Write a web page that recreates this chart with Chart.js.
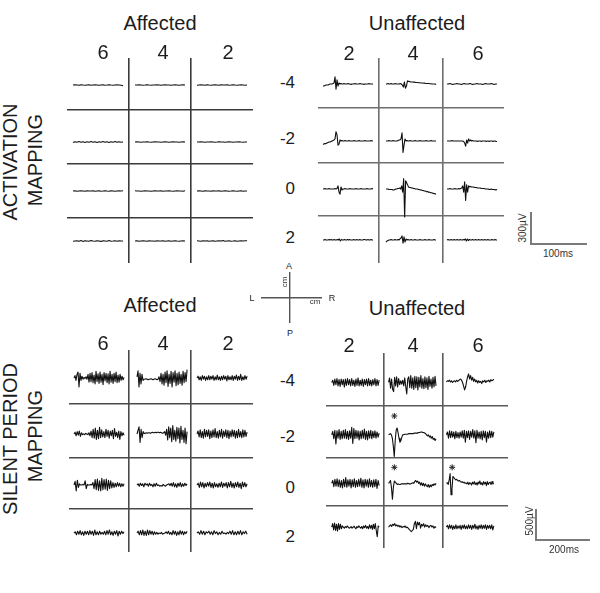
<!DOCTYPE html>
<html>
<head>
<meta charset="utf-8">
<script src="https://cdn.jsdelivr.net/npm/chart.js@4.4.1/dist/chart.umd.min.js"></script>
<style>
  body { margin: 0; background: #fff; }
  #fig { position: relative; width: 600px; height: 593px; overflow: hidden;
         font-family: "Liberation Sans", Arial, sans-serif; color: #1c1c1c; }
  #fig canvas { position: absolute; }
  .t { position: absolute; white-space: nowrap; line-height: 1; transform: translate(-50%, -50%); }
  .rot { transform: translate(-50%, -50%) rotate(-90deg); }
  .rt { transform: translate(-100%, -50%); }
</style>
</head>
<body>
<div id="fig"></div>
<script>
// column / row labels
var affectedCols = ["6", "4", "2"];
var unaffectedCols = ["2", "4", "6"];
var rowLabels = ["-4", "-2", "0", "2"];

// traces in µV, rows -4,-2,0,2 and columns as labelled
// activation mapping, affected side (nearly flat)
var actAffected = [
  [0,2,0,-2,3,0,-2,0,2,-3,0,2,0,-2,0,2,-2,0,3,0,-2,0,2,0,-3,-8],
  [0,0,2,0,-2,0,3,0,-2,0,0,2,0,-3,0,2,0,0,-2,0,2,0,-2,0,2,0],
  [-3,0,2,0,-2,3,0,-2,0,2,0,-3,2,0,0,2,-2,0,3,0,-2,0,2,0,-2,0],
  [-4,3,-2,4,-3,3,-4,2,-3,4,-2,3,-4,3,-2,4,-3,2,-4,3,-2,4,-3,3,-2,0],
  [0,2,0,-2,0,0,3,0,-2,0,2,0,0,-2,0,2,0,-3,0,2,0,0,-2,0,2,0],
  [0,0,2,0,-3,0,0,2,0,-2,0,3,0,0,-2,0,2,0,-2,0,0,3,0,-2,0,0],
  [0,3,-2,0,2,0,-3,2,0,0,3,-2,0,2,-2,0,3,0,-2,2,0,-3,0,2,0,2],
  [3,0,0,-2,0,2,0,0,-3,0,2,0,0,2,-2,0,0,3,0,-2,0,2,0,0,-2,2],
  [0,2,0,-3,2,0,0,-2,3,0,0,2,-3,0,2,0,-2,0,3,0,-2,0,2,-2,0,0],
  [-3,0,3,-3,6,-4,3,0,-3,4,0,-3,3,0,-4,3,0,-3,4,-2,0,3,-3,2,0,0],
  [0,3,-3,0,3,0,-3,3,0,0,-3,3,0,0,3,-2,0,2,-3,0,3,0,-2,0,2,0],
  [3,0,-3,3,0,3,-3,0,3,-3,0,3,0,4,-3,0,3,-2,0,3,-3,0,2,0,3,2]
];

// activation mapping, unaffected side
var actUnaffected = [
  [-20,-20,-15,-10,-10,-10,-5,0,0,0,5,10,70,-50,40,-20,10,0,5,0,0,5,0,0,0,5,0,0,-5,0,0,0,5,0,0,0,0,5,0,0,0,-5,0,0,0,0,5,0,0,0,0],
  [0,0,5,0,0,5,0,0,0,5,0,0,0,0,5,0,-10,-30,20,-40,-20,30,25,25,20,20,20,18,18,15,15,15,12,12,10,10,10,8,8,5,5,5,5,3,3,0,0,0,0,-5],
  [0,0,5,0,-5,0,0,5,0,0,-5,0,5,0,0,0,5,0,-5,0,0,5,0,0,0,-5,0,5,0,0,0,5,0,-5,0,0],
  [-30,-30,-25,-25,-20,-15,-10,-10,-5,0,5,10,20,90,60,-40,-30,10,0,5,0,0,5,0,0,0,5,0,0,0,0,5,0,0,0,0,5,0,0,0,0,0,5,0,0,0,0,0,5,0,0],
  [0,0,0,5,0,0,0,5,0,0,0,0,5,10,10,20,80,-110,-40,20,0,5,0,0,5,0,0,0,0,5,0,0,0,0,5,0,0,0,0,0,5,0,0,0,0,5,0,0,0,0,0],
  [0,0,0,0,0,5,0,0,0,0,0,0,0,0,0,0,0,-5,-20,-50,10,-20,20,0,10,0,5,0,0,0,0,-5,0,0,0,-5,0,0,0,0,-5,0,0,-5,0,0,0,-5,0,0,-5,-5],
  [0,0,5,0,0,0,5,0,0,0,0,0,5,0,5,30,-30,-50,20,-10,0,0,5,0,0,0,0,5,0,0,0,0,0,5,0,0,0,0,5,0,0,0,0,0,5,0,0,0,0,5,0],
  [0,0,0,-5,-5,-5,-5,-10,-10,-5,0,0,5,5,10,0,30,-30,100,-270,80,60,40,20,15,15,10,10,5,5,0,0,0,-5,-5,-10,-10,-15,-15,-20,-20,-25,-25,-30,-30,-35,-35,-40,-40,-45,-45,-50],
  [0,0,0,5,0,0,0,0,5,0,0,0,5,0,5,10,30,-30,70,-110,40,-30,30,20,25,20,20,20,15,15,15,10,10,10,10,5,5,5,5,0,0,0,0,-5,-5,0,-5,-5,-5,-10,-5,-10],
  [0,0,5,0,0,0,5,0,5,0,0,5,0,0,5,0,10,-10,5,0,0,5,0,0,5,0,5,0,0,0,5,0,0,5,0,0,5,0,0,0,5,5,0,0,5,0,0,5,0,0],
  [-20,-10,-5,0,0,5,0,0,0,5,0,0,5,0,10,20,40,-30,30,-20,10,0,5,0,0,5,0,0,0,5,0,0,0,0,5,0,0,0,0,5,0,0,0,5,0,0,0,0,5,0,0],
  [0,5,0,0,5,0,0,5,0,0,5,0,0,5,0,0,5,0,10,-10,10,-5,5,0,0,5,0,0,5,0,0,5,0,0,5,0,0,5,0,0,5,0,0,0,5,0,0,5,0,0]
];

// silent period mapping, affected side
var spAffected = [
  [0,40,-40,60,100,-150,80,-40,30,-20,10,-10,20,-20,60,-70,80,-60,90,-80,50,-100,110,-60,70,-90,100,-70,60,-110,90,-50,80,-80,70,-100,110,-70,60,-90,80,-60,100,-80,50,-70,60,-40,30,-30,10],
  [20,120,-150,80,-100,60,-40,-20,-20,-10,-20,-30,-20,-20,-10,-20,-30,-20,-10,-20,-30,-20,20,-60,80,-100,60,-120,100,-80,120,-140,60,-90,110,-150,90,-70,120,-130,80,-110,100,-90,60,-120,110,-80,90,-60,140],
  [0,30,-30,20,-40,40,-20,30,-40,20,-30,40,-30,30,-20,40,-40,20,-30,50,-30,20,-40,30,-30,40,-20,30,-50,40,-30,20,-30,40,-40,30,-20,50,-40,30,-30,60,-40,20,-30,40,-20,30],
  [0,30,-30,40,-20,50,-40,20,-10,0,-10,10,0,-10,20,-30,50,-60,80,-70,100,-90,60,-80,110,-60,70,-50,40,-60,80,-40,60,-70,50,-30,60,-80,90,-40,30,-60,50,-90,40,-30,20,-20],
  [0,60,120,-140,80,-60,40,10,10,20,10,20,20,10,20,30,20,20,30,20,30,30,20,30,20,10,20,40,-20,80,-100,120,-60,100,-130,140,-90,60,-120,110,-80,100,-150,130,-90,60,-140,100,-160,40],
  [0,50,-50,70,-60,40,-70,80,-50,60,-40,70,-80,50,-60,70,-50,90,-60,40,-70,60,-50,80,-70,50,-40,70,-60,60,-80,50,-50,70,-40,60,-70,50,-60,80,-50,40,-60,70,-50,60,-40,30],
  [0,60,-100,80,-40,20,0,0,10,0,70,-60,10,0,0,10,0,40,-60,90,-80,100,-90,70,-100,110,-80,90,-70,100,-90,80,-60,70,-50,40,-40,30,-30,40,-20,30,-30,20,-20,20],
  [0,20,-20,30,-10,20,-30,30,0,20,-20,30,-10,10,-30,20,-20,30,-10,0,-20,-10,-20,10,-10,-20,0,10,20,-10,30,-20,40,-30,20,-40,30,-20,40,-30,20,-20,30,-10,20],
  [0,30,-40,50,-30,40,-50,30,-30,40,-20,50,-40,30,-50,40,-30,20,-40,30,-30,50,-40,30,-20,40,-50,40,-30,60,-40,30,-50,40,-30,50,-40,30,-60,50,-30,40,-30,20],
  [0,20,-30,30,-20,40,-30,20,-40,30,-20,30,-30,40,-20,30,-40,50,-30,20,-30,30,-20,10,-20,30,-30,40,-20,50,-30,20,-40,30,-20,40,-50,30,-20,30,-10,20],
  [0,30,-30,40,-30,50,-40,30,-40,50,-30,40,-20,30,-30,20,-20,10,-20,0,-10,10,-20,-10,0,20,-10,30,-20,10,-30,40,-20,30,-40,20,-30,40,-20,30,-30,20,-10,30],
  [0,20,-20,40,-20,30,-30,20,0,30,-20,20,-30,40,-10,20,-30,10,-20,30,-10,0,-20,10,-10,30,-20,40,-30,20,-30,30,-20,40,-30,20,-10,30,-20]
];

// silent period mapping, unaffected side
var spUnaffected = [
  [0,40,-50,60,-40,70,-60,50,-70,60,-40,50,-80,60,-50,70,-40,50,-60,70,-50,40,-70,60,-50,80,-60,40,-50,60,-70,50,-40,60,-60,70,-50,40,-60,50,-40,70,-60,50,-50,40],
  [0,80,-100,60,-120,-160,90,-60,100,-80,70,-40,30,-30,40,-60,80,-70,-200,60,100,-90,120,-100,80,-120,110,-90,100,-130,90,-80,120,-100,70,-110,100,-90,80,-120,110,-70,60,-100,90,-80,110,-60],
  [10,30,20,40,10,30,0,20,30,10,40,20,30,50,60,40,0,-60,-130,-80,20,100,150,60,120,40,90,20,60,10,40,-10,30,0,20,-20,30,10,40,0,30,20,40,10,50,30,40,60],
  [0,60,-70,80,-160,70,-60,90,-80,60,-70,80,-60,90,-70,60,-80,70,-60,130,-150,110,-70,80,-60,70,-90,60,-70,80,-60,100,-80,60,-90,70,-60,80,-70,60,-50,70,-60,50,-40,30],
  [0,10,20,0,-60,-200,-380,-100,80,120,40,-60,-130,-100,-40,0,0,10,10,10,10,20,20,20,20,20,20,30,30,30,30,40,40,40,50,50,40,40,30,20,0,-20,0,-40,-20,-60,-30,-80,-60,-100,-70],
  [0,50,-60,70,-50,60,-40,50,-70,60,-50,40,-60,50,-40,70,-60,80,-130,60,-50,70,-80,60,-40,90,-60,70,-140,80,-60,50,-70,60,-90,70,-50,60,-130,50,-60,70,-50,60,-40,50],
  [0,50,-60,70,-50,80,-60,60,-70,50,-80,70,-60,100,-70,60,-50,70,-80,60,-60,80,-70,50,-60,70,-50,90,-70,60,-80,70,-50,60,-70,80,-60,50,-70,60,-60,70,-90,50,-40],
  [0,20,50,-80,-280,-60,40,20,0,-20,-10,-20,-20,-10,-10,-10,-10,-10,-10,0,0,-10,-10,-10,0,10,0,30,50,20,40,0,20,-30,10,-40,0,-50,-10,-40,-60,-20,-70,-30,-60,-20,-40,-10,-30,0],
  [0,10,-20,60,170,-200,-100,120,100,80,60,70,50,40,50,30,20,30,10,20,0,10,-10,20,-20,10,0,-30,20,-10,30,-20,10,-30,20,-10,40,-20,10,-30,30,-10,20,-40,30,-20,10,20,-20,30,-10,0],
  [0,60,-50,70,-60,50,-70,60,-40,50,-30,20,0,-20,10,-10,20,0,-20,-10,10,-20,0,20,-10,-30,10,-10,20,0,-20,10,-30,20,-10,30,-20,10,-30,40,-20,30,-40,50,-30,60,-60,-170,20,0],
  [0,20,40,10,50,30,60,20,40,10,30,0,20,-10,10,0,20,-10,0,-20,-40,-60,-80,-60,-40,60,100,-30,90,40,80,-20,50,20,60,0,40,10,30,-10,20,30,0,20,-20,10,-10],
  [0,30,-30,40,-20,30,-40,20,-30,40,-30,20,-20,30,-40,30,-20,40,-30,20,-30,40,-20,30,-40,30,-20,50,-30,20,-40,30,-20,40,-30,30,-20,40,-40,30,-20,30,-30,40,-50,20]
];

// asterisks (silent period, unaffected): trace index, ms after trace start, µV above baseline
var starTrace = [4, 7, 8];
var starMs = [23, 23, 23];
var starUV = [330, 280, 280];

var fig = document.getElementById("fig");

function addCanvas(left, top, w, h) {
  var c = document.createElement("canvas");
  c.width = w; c.height = h;
  c.style.left = left + "px"; c.style.top = top + "px";
  c.style.width = w + "px"; c.style.height = h + "px";
  fig.appendChild(c);
  return c.getContext("2d");
}

function baseOptions() {
  return {
    animation: false, responsive: false, devicePixelRatio: 1, events: [],
    layout: { padding: 0 },
    plugins: { legend: { display: false }, tooltip: { enabled: false } }
  };
}

// one 4x3 grid of traces
function drawPanel(p, traces, stars) {
  var xv = function (px) { return (px - p.left) / p.pxPerMs; };
  var yv = function (py) { return -(py - p.top) / p.pxPerUV; };
  var datasets = [];
  traces.forEach(function (tr, k) {
    var r = Math.floor(k / 3), c = k % 3;
    var x0 = xv(p.traceStart[c]), y0 = yv(p.rowMid[r]);
    var dt = p.durMs / (tr.length - 1);
    datasets.push({
      data: tr.map(function (v, i) { return { x: x0 + i * dt, y: y0 + v }; }),
      borderColor: "#111", borderWidth: 1.1, borderJoinStyle: "round",
      pointRadius: 0, tension: 0, fill: false
    });
  });
  if (stars) {
    datasets.push({
      type: "scatter",
      data: stars.idx.map(function (k, j) {
        var r = Math.floor(k / 3), c = k % 3;
        return { x: xv(p.traceStart[c]) + stars.ms[j], y: yv(p.rowMid[r]) + stars.uv[j] };
      }),
      pointStyle: "star", pointRadius: 3, borderColor: "#222", borderWidth: 1, backgroundColor: "#222"
    });
  }
  var opts = baseOptions();
  opts.scales = {
    x: {
      type: "linear", min: 0, max: xv(p.left + p.w),
      afterBuildTicks: function (a) { a.ticks = p.colLines.map(function (v) { return { value: xv(v) }; }); },
      ticks: { display: false },
      grid: { color: p.gridColor, lineWidth: 1.6, drawTicks: false },
      border: { display: false }
    },
    y: {
      type: "linear", min: yv(p.top + p.h), max: 0,
      afterBuildTicks: function (a) { a.ticks = p.rowLines.map(function (v) { return { value: yv(v) }; }); },
      ticks: { display: false },
      grid: { color: p.gridColor, lineWidth: 1.6, drawTicks: false },
      border: { display: false }
    }
  };
  new Chart(addCanvas(p.left, p.top, p.w, p.h), { type: "line", data: { datasets: datasets }, options: opts });
}

var topScale = { pxPerMs: 55 / 100, pxPerUV: 31 / 300, durMs: 91 };
var botScale = { pxPerMs: 53 / 200, pxPerUV: 30 / 500, durMs: 189 };

function panel(box, s) { return Object.assign({}, s, box); }

drawPanel(panel({ left: 67, top: 58, w: 186, h: 205, colLines: [129, 191], rowLines: [110, 164, 218],
  rowMid: [85, 142, 191, 241], traceStart: [73, 135, 197], gridColor: "#3a3a3a" }, topScale), actAffected);
drawPanel(panel({ left: 318, top: 58, w: 186, h: 205, colLines: [379, 443], rowLines: [108, 163, 216],
  rowMid: [84, 141, 189, 240], traceStart: [323, 386, 447], gridColor: "#6e6e6e" }, topScale), actUnaffected);
drawPanel(panel({ left: 69, top: 350, w: 184, h: 202, colLines: [129, 191], rowLines: [404, 458, 509],
  rowMid: [378, 434, 485, 533], traceStart: [74, 137, 197], gridColor: "#4a4a4a" }, botScale), spAffected);
drawPanel(panel({ left: 321, top: 348, w: 192, h: 205, colLines: [382, 444], rowLines: [404, 458, 509],
  rowMid: [379, 434, 485, 531], traceStart: [327, 387, 448], gridColor: "#5a5a5a" }, botScale), spUnaffected,
  { idx: starTrace, ms: starMs, uv: starUV });

// calibration bars: axis borders spanning 100 ms / 300 µV and 200 ms / 500 µV
function scaleBar(left, bottom, ms, uv, s) {
  var pad = 2;
  var w = Math.round(ms * s.pxPerMs), h = Math.round(uv * s.pxPerUV);
  var opts = baseOptions();
  opts.layout = { padding: pad };
  var ax = function (max) {
    return { type: "linear", min: 0, max: max, ticks: { display: false },
      grid: { display: false, drawTicks: false }, border: { display: true, color: "#7a7a7a", width: 2 } };
  };
  opts.scales = { x: ax(ms), y: ax(uv) };
  new Chart(addCanvas(left - pad, bottom - h - pad, w + 2 * pad, h + 2 * pad),
    { type: "line", data: { datasets: [] }, options: opts });
}
scaleBar(531, 244, 100, 300, topScale);
scaleBar(536, 540, 200, 500, botScale);

// orientation cross (A/P, L/R)
(function () {
  var opts = baseOptions();
  var ax = function (min, max) {
    return { type: "linear", min: min, max: max,
      afterBuildTicks: function (a) { a.ticks = [{ value: 0 }]; },
      ticks: { display: false }, grid: { color: "#555", lineWidth: 1.4, drawTicks: false }, border: { display: false } };
  };
  opts.scales = { x: ax(-29, 32), y: ax(-25, 26) };
  new Chart(addCanvas(261, 272, 61, 51), { type: "line", data: { datasets: [] }, options: opts });
})();

// text
function text(s, x, y, size, cls, color) {
  var d = document.createElement("div");
  d.className = "t" + (cls ? " " + cls : "");
  d.textContent = s;
  d.style.left = x + "px"; d.style.top = y + "px";
  d.style.fontSize = size + "px";
  if (color) d.style.color = color;
  fig.appendChild(d);
}
text("Affected", 160, 23, 20); text("Unaffected", 417, 23, 20);
text("Affected", 160, 305, 20); text("Unaffected", 417, 308, 20);
[103, 163, 228].forEach(function (x, i) { text(affectedCols[i], x, 52, 20); text(affectedCols[i], x, 343, 20); });
[349, 413, 478].forEach(function (x, i) { text(unaffectedCols[i], x, 53, 20); text(unaffectedCols[i], x, 345, 20); });
[82, 138, 188, 237].forEach(function (y, i) { text(rowLabels[i], 295, y, 17, "rt"); });
[380, 436, 487, 536].forEach(function (y, i) { text(rowLabels[i], 295, y, 17, "rt"); });
text("ACTIVATION", 10, 162, 20, "rot"); text("MAPPING", 35, 160, 20, "rot");
text("SILENT PERIOD", 10, 439, 20, "rot"); text("MAPPING", 35, 436, 20, "rot");
text("A", 289, 266, 9, null, "#222"); text("P", 290, 333, 9, null, "#222");
text("L", 252, 298, 9, null, "#222"); text("R", 332, 298, 9, null, "#222");
text("cm", 285, 282, 8, "rot", "#333"); text("cm", 315, 302, 8, null, "#333");
text("300µV", 523, 228, 10, "rot", "#333"); text("100ms", 558, 254, 10, null, "#333");
text("500µV", 530, 521, 10, "rot", "#333"); text("200ms", 564, 550, 10, null, "#333");
</script>
</body>
</html>
